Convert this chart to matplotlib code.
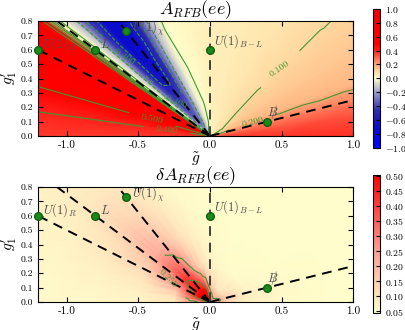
import numpy as np
import matplotlib
matplotlib.use('Agg')
import matplotlib.pyplot as plt
import matplotlib.tri as mtri
from matplotlib.colors import LinearSegmentedColormap

plt.rcParams['font.family'] = 'serif'
plt.rcParams['font.serif'] = ['cmr10', 'DejaVu Serif']
plt.rcParams['mathtext.fontset'] = 'cm'
plt.rcParams['axes.formatter.use_mathtext'] = True
plt.rcParams['xtick.direction'] = 'in'
plt.rcParams['ytick.direction'] = 'in'
plt.rcParams['xtick.top'] = True
plt.rcParams['ytick.right'] = True

# Benchmark models (g_tilde, g1')
model_names = [r'$U(1)_R$', r'$L$', r'$U(1)_\chi$', r'$U(1)_{B-L}$', r'$B\!\!\!/$']
model_gt = [-1.2, -0.8, -0.585, 0.0, 0.4]
model_g1 = [0.6, 0.6, 0.73, 0.6, 0.1]
# label offsets (dx, dy) in data units
label_dx = [0.035, 0.035, 0.04, 0.025, 0.0]
label_dy = [0.04, 0.04, 0.02, 0.06, 0.065]

# Polar sampling grid of the scan (angle in the (g_tilde, g1') plane, radius)
theta_deg = [0, 8, 14, 20, 30, 45, 60, 75, 90, 100, 108, 113, 118, 123, 128,
             133, 137, 140, 142, 143.5, 145, 147, 152, 158, 164, 172, 180]
radius = [0.02, 0.1, 0.25, 0.5, 0.8, 1.1, 1.6]

# A_RFB(ee), rows follow theta_deg, columns follow radius
A_rfb = [
    [0.30, 0.34, 0.36, 0.37, 0.38, 0.38, 0.38],
    [0.25, 0.29, 0.31, 0.32, 0.33, 0.33, 0.33],
    [0.17, 0.22, 0.24, 0.25, 0.25, 0.25, 0.25],
    [0.10, 0.14, 0.16, 0.17, 0.17, 0.17, 0.17],
    [0.08, 0.10, 0.13, 0.14, 0.14, 0.14, 0.14],
    [0.05, 0.07, 0.09, 0.095, 0.095, 0.095, 0.095],
    [0.04, 0.05, 0.065, 0.07, 0.07, 0.07, 0.07],
    [0.03, 0.04, 0.05, 0.05, 0.05, 0.05, 0.05],
    [0.02, 0.03, 0.035, 0.04, 0.04, 0.04, 0.04],
    [0.02, -0.02, 0.005, 0.02, 0.025, 0.025, 0.025],
    [0.00, -0.08, -0.03, 0.00, 0.015, 0.015, 0.015],
    [-0.05, -0.15, -0.10, -0.04, 0.00, 0.00, 0.00],
    [-0.10, -0.22, -0.22, -0.18, -0.15, -0.15, -0.15],
    [-0.10, -0.30, -0.35, -0.45, -0.50, -0.50, -0.50],
    [-0.10, -0.30, -0.40, -0.65, -0.75, -0.75, -0.75],
    [-0.10, -0.25, -0.40, -0.62, -0.72, -0.72, -0.72],
    [-0.05, -0.20, -0.28, -0.38, -0.42, -0.42, -0.42],
    [0.00, -0.08, -0.10, -0.12, -0.12, -0.12, -0.12],
    [0.04, 0.00, -0.02, -0.02, -0.02, -0.02, -0.02],
    [0.08, 0.06, 0.05, 0.05, 0.05, 0.05, 0.05],
    [0.45, 0.45, 0.45, 0.45, 0.45, 0.45, 0.45],
    [0.65, 0.65, 0.65, 0.65, 0.65, 0.65, 0.65],
    [0.62, 0.62, 0.62, 0.62, 0.62, 0.62, 0.62],
    [0.57, 0.57, 0.57, 0.57, 0.57, 0.57, 0.57],
    [0.50, 0.50, 0.50, 0.50, 0.50, 0.50, 0.50],
    [0.40, 0.40, 0.40, 0.40, 0.40, 0.40, 0.40],
    [0.36, 0.36, 0.36, 0.36, 0.36, 0.36, 0.36],
]

# delta A_RFB(ee)
dA_rfb = [
    [0.35, 0.15, 0.08, 0.06, 0.05, 0.05, 0.05],
    [0.40, 0.18, 0.08, 0.06, 0.05, 0.05, 0.05],
    [0.40, 0.18, 0.08, 0.06, 0.05, 0.05, 0.05],
    [0.35, 0.15, 0.07, 0.055, 0.05, 0.05, 0.05],
    [0.30, 0.12, 0.06, 0.05, 0.05, 0.05, 0.05],
    [0.28, 0.10, 0.055, 0.05, 0.05, 0.05, 0.05],
    [0.30, 0.10, 0.055, 0.05, 0.05, 0.05, 0.05],
    [0.35, 0.13, 0.06, 0.05, 0.05, 0.05, 0.05],
    [0.45, 0.22, 0.075, 0.055, 0.05, 0.05, 0.05],
    [0.55, 0.38, 0.11, 0.065, 0.055, 0.05, 0.05],
    [0.55, 0.48, 0.16, 0.085, 0.06, 0.055, 0.05],
    [0.55, 0.52, 0.20, 0.10, 0.07, 0.06, 0.055],
    [0.55, 0.55, 0.26, 0.13, 0.085, 0.065, 0.06],
    [0.55, 0.56, 0.32, 0.16, 0.10, 0.075, 0.06],
    [0.55, 0.57, 0.37, 0.19, 0.12, 0.085, 0.07],
    [0.55, 0.57, 0.40, 0.21, 0.13, 0.09, 0.07],
    [0.55, 0.57, 0.41, 0.22, 0.14, 0.09, 0.07],
    [0.55, 0.57, 0.41, 0.22, 0.14, 0.09, 0.07],
    [0.55, 0.57, 0.40, 0.21, 0.13, 0.09, 0.07],
    [0.55, 0.57, 0.39, 0.20, 0.13, 0.09, 0.07],
    [0.55, 0.56, 0.36, 0.18, 0.12, 0.085, 0.07],
    [0.55, 0.55, 0.33, 0.17, 0.11, 0.08, 0.07],
    [0.55, 0.52, 0.27, 0.14, 0.10, 0.075, 0.065],
    [0.55, 0.48, 0.21, 0.11, 0.085, 0.07, 0.065],
    [0.52, 0.42, 0.15, 0.09, 0.075, 0.065, 0.06],
    [0.48, 0.32, 0.11, 0.075, 0.065, 0.06, 0.06],
    [0.42, 0.22, 0.09, 0.07, 0.06, 0.06, 0.06],
]

x_ticks = [-1.0, -0.5, 0.0, 0.5, 1.0]
y_ticks = [0.0, 0.1, 0.2, 0.3, 0.4, 0.5, 0.6, 0.7, 0.8]
cbar_ticks_top = [-1.0, -0.8, -0.6, -0.4, -0.2, 0.0, 0.2, 0.4, 0.6, 0.8, 1.0]
cbar_ticks_bot = [0.05, 0.10, 0.15, 0.20, 0.25, 0.30, 0.35, 0.40, 0.45, 0.50]

green = '#3c9a32'

cmap_top = LinearSegmentedColormap.from_list('afb', [
    (0.0, (0.0, 0.0, 1.0)),
    (0.15, (0.05, 0.05, 0.78)),
    (0.27, (0.18, 0.18, 0.68)),
    (0.40, (0.62, 0.62, 0.8)),
    (0.50, (1.0, 1.0, 0.8)),
    (0.55, (1.0, 0.85, 0.63)),
    (0.60, (1.0, 0.66, 0.46)),
    (0.65, (1.0, 0.40, 0.30)),
    (0.675, (1.0, 0.27, 0.21)),
    (0.70, (1.0, 0.14, 0.11)),
    (0.725, (1.0, 0.05, 0.04)),
    (0.75, (1.0, 0.0, 0.0)),
    (1.0, (0.95, 0.0, 0.0)),
])
cmap_bot = LinearSegmentedColormap.from_list('dafb', [
    (0.0, (1.0, 1.0, 0.8)),
    (0.45, (1.0, 0.62, 0.58)),
    (1.0, (1.0, 0.0, 0.0)),
])

# triangulation of the polar scan grid
th = np.radians(theta_deg)
nt, nr = len(theta_deg), len(radius)
TT, RR = np.meshgrid(th, radius, indexing='ij')
xs = (RR * np.cos(TT)).ravel()
ys = (RR * np.sin(TT)).ravel()
tris = []
for i in range(nt - 1):
    for j in range(nr - 1):
        a = i * nr + j
        b = (i + 1) * nr + j
        tris.append([a, b, b + 1])
        tris.append([a, b + 1, a + 1])
triang = mtri.Triangulation(xs, ys, np.array(tris))

fig = plt.figure(figsize=(4.05, 3.3), dpi=100)
ax1 = fig.add_axes([0.094, 0.588, 0.778, 0.348])
ax2 = fig.add_axes([0.094, 0.085, 0.778, 0.348])
cax1 = fig.add_axes([0.921, 0.552, 0.017, 0.421])
cax2 = fig.add_axes([0.921, 0.052, 0.017, 0.418])

def decorate(ax, title):
    for gt, g1 in zip(model_gt, model_g1):
        k = 3.0 / np.hypot(gt, g1)
        col = '0.25' if gt == 0 else 'k'
        ax.plot([0, gt * k], [0, g1 * k], ls='--', color=col, lw=1.4,
                dashes=(5, 3.5), zorder=3)
    ax.plot(model_gt, model_g1, 'o', color='#1a8a1a', mec='#0f5f0f',
            ms=5.5, zorder=4, clip_on=False)
    for name, gt, g1, dx, dy in zip(model_names, model_gt, model_g1,
                                    label_dx, label_dy):
        ax.text(gt + dx, g1 + dy, name, color='0.3', fontsize=9,
                ha='left', va='center', zorder=5)
    ax.set_xlim(-1.2, 1.0)
    ax.set_ylim(0.0, 0.8)
    ax.set_xticks(x_ticks)
    ax.set_yticks(y_ticks)
    ax.set_xticklabels(['-1.0', '-0.5', '0.0', '0.5', '1.0'], fontsize=8)
    ax.set_yticklabels(['%.1f' % v for v in y_ticks], fontsize=7)
    ax.set_xlabel(r'$\tilde{g}$', fontsize=11, labelpad=0)
    ax.set_ylabel(r"$g_1^{\prime}$", fontsize=11, labelpad=1)
    ax.set_title(title, fontsize=13, pad=1)

# top: A_RFB
z1 = np.ravel(A_rfb)
im1 = ax1.tripcolor(triang, z1, shading='gouraud', cmap=cmap_top,
                    vmin=-1.0, vmax=1.0, zorder=1)
ax1.tricontour(triang, z1, levels=[-0.6, 0.0],
               colors=green, linewidths=0.8, zorder=2)
cs1 = ax1.tricontour(triang, z1, levels=[-0.4, -0.2, 0.1, 0.2, 0.4, 0.5],
                     colors=green, linewidths=0.8, zorder=2)
ax1.clabel(cs1, fmt='%.3f', fontsize=7, colors=green, inline=True,
           manual=[(-0.6, 0.55), (-0.23, 0.27), (0.5, 0.45), (0.3, 0.08),
                   (-0.3, 0.04), (-0.4, 0.13)])
decorate(ax1, r'$A_{RFB}(ee)$')

# bottom: delta A_RFB
z2 = np.ravel(dA_rfb)
im2 = ax2.tripcolor(triang, z2, shading='gouraud', cmap=cmap_bot,
                    vmin=0.045, vmax=0.503, zorder=1)
ax2.tricontour(triang, z2, levels=[0.45], colors=green, linewidths=0.8, zorder=2)
cs2 = ax2.tricontour(triang, z2, levels=[0.25], colors=green, linewidths=0.8,
                     zorder=2)
ax2.clabel(cs2, fmt='%.3f', fontsize=7, colors=green, inline=True,
           manual=[(-0.27, 0.22)])
decorate(ax2, r'$\delta A_{RFB}(ee)$')

cb1 = fig.colorbar(im1, cax=cax1, ticks=cbar_ticks_top)
cb1.ax.tick_params(labelsize=7, direction='in', length=3)
cb1.ax.set_yticklabels(['$%.1f$' % v for v in cbar_ticks_top])
cb2 = fig.colorbar(im2, cax=cax2, ticks=cbar_ticks_bot)
cb2.ax.tick_params(labelsize=7, direction='in', length=3)
cb2.ax.set_yticklabels(['$%.2f$' % v for v in cbar_ticks_bot])

fig.savefig('out.png', dpi=100)
